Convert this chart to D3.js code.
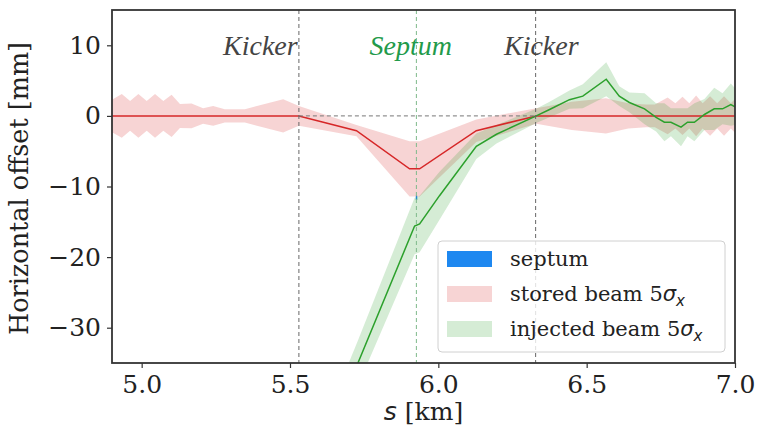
<!DOCTYPE html>
<html>
<head>
<meta charset="utf-8">
<script src="https://cdn.jsdelivr.net/npm/d3@7"></script>
<style>
body { margin: 0; background: #fff; }
text { font-family: "DejaVu Serif", serif; fill: #222; }
</style>
</head>
<body>
<svg id="plot"></svg>
<script>
var width = 757;
var height = 427;
var margin = {top: 10, right: 22, bottom: 64, left: 112};
var w = width - margin.left - margin.right;
var h = height - margin.top - margin.bottom;

// stored beam: position s [km], orbit x [mm], 5 sigma half width [mm]
var storedS = [4.900, 4.933, 4.961, 4.989, 5.017, 5.045, 5.073, 5.101, 5.129, 5.168, 5.207, 5.241, 5.280, 5.348, 5.477, 5.530,
    5.724, 5.903, 5.937, 6.128, 6.330, 6.450, 6.565, 6.640, 6.700, 6.730,
    6.773, 6.799, 6.823, 6.846, 6.869, 6.891, 6.916, 6.940, 6.963, 6.986, 7.000];
var storedX = [0, 0, 0, 0, 0, 0, 0, 0, 0, 0, 0, 0, 0, 0, 0, 0,
    -2.1, -7.5, -7.5, -2.1, 0, 0, 0, 0, 0, 0,
    0, 0, 0, 0, 0, 0, 0, 0, 0, 0, 0];
var storedW = [2.3, 3.1, 2.1, 3.1, 2.1, 3.1, 2.1, 3.0, 1.7, 1.75, 1.1, 1.4, 0.95, 0.95, 2.35, 1.4,
    0.8, 3.9, 3.9, 1.6, 1.1, 2.0, 2.5, 1.8, 1.6, 1.6,
    2.6, 1.8, 2.7, 1.8, 2.9, 1.8, 2.8, 1.8, 2.8, 1.8, 2.4];

// injected beam
var injS = [5.700, 5.729, 5.920, 5.937, 6.004, 6.128, 6.196, 6.330, 6.375, 6.442, 6.487, 6.566, 6.610, 6.644, 6.695,
    6.734, 6.762, 6.784, 6.818, 6.840, 6.863, 6.897, 6.930, 6.958, 6.986, 7.000];
var injX = [-38.0, -35.0, -15.6, -15.3, -11.3, -4.3, -2.6, 0.0, 0.9, 2.3, 2.8, 5.2, 2.8, 1.9, 1.0,
    -0.2, -0.9, -0.9, -1.6, -0.9, -0.9, 0.2, 1.0, 1.0, 1.6, 1.3];
var injW = [3.2, 3.2, 4.0, 4.0, 3.4, 1.8, 1.3, 1.0, 1.1, 1.3, 1.7, 2.4, 1.4, 1.4, 2.2,
    2.0, 2.7, 2.0, 2.7, 2.0, 2.7, 2.2, 3.0, 2.2, 3.0, 2.6];

// septum blade
var septumS = [5.924, 5.929];
var septumLo = [-11.9, -11.9];
var septumHi = [-11.3, -11.3];

var kickerS = [5.530, 6.328];
var septumPos = 5.926;
var labelText = ["Kicker", "Septum", "Kicker"];
var labelS = [5.40, 5.907, 6.347];
var labelY = 8.6;

var xTicks = [5.0, 5.5, 6.0, 6.5, 7.0];
var yTicks = [10, 0, -10, -20, -30];
var legendLabels = ["septum", "stored beam 5", "injected beam 5"];

var red = "#d62728";
var green = "#2ca02c";
var blue = "#1e88f0";

var svg = d3.select("#plot")
    .attr("width", width)
    .attr("height", height);

svg.append("rect")
    .attr("width", width)
    .attr("height", height)
    .attr("fill", "#fff");

var xScale = d3.scaleLinear().domain([4.9, 7.0]).range([0, w]);
var yScale = d3.scaleLinear().domain([-35, 15]).range([h, 0]);

var g = svg.append("g")
    .attr("transform", "translate(" + margin.left + "," + margin.top + ")");

g.append("clipPath")
    .attr("id", "clip")
    .append("rect")
    .attr("width", w)
    .attr("height", h);

var plot = g.append("g").attr("clip-path", "url(#clip)");

function band(s, c, hw) {
    return d3.area()
        .x(function (d, i) { return xScale(s[i]); })
        .y0(function (d, i) { return yScale(c[i] - hw[i]); })
        .y1(function (d, i) { return yScale(c[i] + hw[i]); })(s);
}

function curve(s, c) {
    return d3.line()
        .x(function (d, i) { return xScale(s[i]); })
        .y(function (d, i) { return yScale(c[i]); })(s);
}

// septum
plot.append("path")
    .attr("d", d3.area()
        .x(function (d, i) { return xScale(septumS[i]); })
        .y0(function (d, i) { return yScale(septumLo[i]); })
        .y1(function (d, i) { return yScale(septumHi[i]); })(septumS))
    .attr("fill", blue);

plot.append("path")
    .attr("d", band(storedS, storedX, storedW))
    .attr("fill", red)
    .attr("fill-opacity", 0.2);

plot.append("path")
    .attr("d", band(injS, injX, injW))
    .attr("fill", green)
    .attr("fill-opacity", 0.2);

plot.append("path")
    .attr("d", curve(storedS, storedX))
    .attr("fill", "none")
    .attr("stroke", red)
    .attr("stroke-width", 1.5);

plot.append("path")
    .attr("d", curve(injS, injX))
    .attr("fill", "none")
    .attr("stroke", green)
    .attr("stroke-width", 1.5);

// element markers
plot.selectAll(".kicker")
    .data(kickerS)
    .enter()
    .append("line")
    .attr("class", "kicker")
    .attr("x1", function (d) { return xScale(d); })
    .attr("x2", function (d) { return xScale(d); })
    .attr("y1", 0)
    .attr("y2", h)
    .attr("stroke", "#666")
    .attr("stroke-width", 1)
    .attr("stroke-dasharray", "4,3");

plot.append("line")
    .attr("x1", xScale(septumPos))
    .attr("x2", xScale(septumPos))
    .attr("y1", 0)
    .attr("y2", h)
    .attr("stroke", "#7fb98a")
    .attr("stroke-width", 1)
    .attr("stroke-dasharray", "4,3");

plot.append("line")
    .attr("x1", xScale(kickerS[0]))
    .attr("x2", xScale(kickerS[1]))
    .attr("y1", yScale(0))
    .attr("y2", yScale(0))
    .attr("stroke", "#777")
    .attr("stroke-width", 1)
    .attr("stroke-dasharray", "4,3");

g.selectAll(".elabel")
    .data(labelText)
    .enter()
    .append("text")
    .attr("class", "elabel")
    .attr("x", function (d, i) { return xScale(labelS[i]); })
    .attr("y", yScale(labelY))
    .attr("text-anchor", "middle")
    .style("font-family", "'Liberation Serif', serif")
    .style("font-style", "italic")
    .style("font-size", "28px")
    .style("fill", function (d, i) { return i == 1 ? "#229a4a" : "#444"; })
    .text(function (d) { return d; });

// axes
var xAxis = g.append("g")
    .attr("transform", "translate(0," + h + ")")
    .call(d3.axisBottom(xScale).tickValues(xTicks).tickSize(5).tickPadding(7).tickFormat(d3.format(".1f")));
var yAxis = g.append("g")
    .call(d3.axisLeft(yScale).tickValues(yTicks).tickSize(5).tickPadding(6)
        .tickFormat(function (d) { return d < 0 ? "\u2212" + Math.abs(d) : d; }));
[xAxis, yAxis].forEach(function (a) {
    a.select(".domain").remove();
    a.selectAll("line").attr("stroke", "#333").attr("stroke-width", 1.2);
    a.selectAll("text")
        .style("font-family", "'DejaVu Serif', serif")
        .style("font-size", "25px")
        .attr("fill", "#222");
});

g.append("rect")
    .attr("width", w)
    .attr("height", h)
    .attr("fill", "none")
    .attr("stroke", "#333")
    .attr("stroke-width", 1.8);

g.append("text")
    .attr("transform", "translate(" + (-84) + "," + (h / 2 + 2) + ") rotate(-90)")
    .attr("text-anchor", "middle")
    .style("font-size", "25.5px")
    .text("Horizontal offset [mm]");

var xl = g.append("text")
    .attr("x", w / 2)
    .attr("y", h + 57)
    .attr("text-anchor", "middle")
    .style("font-size", "25px");
xl.append("tspan")
    .style("font-family", "'DejaVu Sans', sans-serif")
    .style("font-style", "italic")
    .text("s");
xl.append("tspan").text(" [km]");

// legend, lower right
var legend = g.append("g")
    .attr("transform", "translate(" + (w - 297) + "," + (h - 122) + ")");
legend.append("rect")
    .attr("width", 287)
    .attr("height", 111)
    .attr("rx", 4)
    .attr("fill", "#fff")
    .attr("fill-opacity", 0.8)
    .attr("stroke", "#d0d0d0");

var legendColors = [blue, red, green];
var legendOpacity = [1, 0.2, 0.2];
var entry = legend.selectAll(".entry")
    .data(legendLabels)
    .enter()
    .append("g")
    .attr("class", "entry")
    .attr("transform", function (d, i) { return "translate(0," + (18 + i * 35) + ")"; });
entry.append("rect")
    .attr("x", 9)
    .attr("y", -8)
    .attr("width", 45)
    .attr("height", 16)
    .attr("fill", function (d, i) { return legendColors[i]; })
    .attr("fill-opacity", function (d, i) { return legendOpacity[i]; });
var lt = entry.append("text")
    .attr("x", 72)
    .attr("dy", "0.35em")
    .style("font-size", "21px");
lt.append("tspan").text(function (d) { return d; });
lt.filter(function (d, i) { return i > 0; })
    .append("tspan")
    .style("font-family", "'DejaVu Sans', sans-serif")
    .style("font-style", "italic")
    .text("\u03c3");
lt.filter(function (d, i) { return i > 0; })
    .append("tspan")
    .attr("dy", "0.3em")
    .style("font-family", "'DejaVu Sans', sans-serif")
    .style("font-style", "italic")
    .style("font-size", "15px")
    .text("x");
</script>
</body>
</html>
